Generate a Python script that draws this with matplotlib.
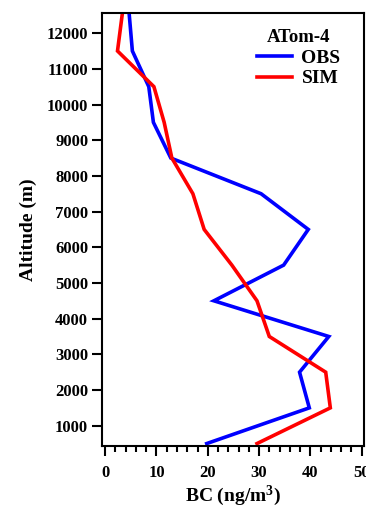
import matplotlib
matplotlib.use("Agg")
import matplotlib.pyplot as plt
from matplotlib.ticker import MultipleLocator

altitude = [500, 1500, 2500, 3500, 4500, 5500, 6500, 7500, 8500, 9500, 10500, 11500, 12500]
obs = [19.8, 39.8, 37.9, 43.6, 21.2, 34.8, 39.6, 30.4, 12.8, 9.4, 8.5, 5.3, 4.7]
sim = [29.6, 43.9, 43.0, 32.0, 29.6, 24.7, 19.3, 17.1, 13.0, 11.5, 9.5, 2.4, 3.3]
yticks = [1000, 2000, 3000, 4000, 5000, 6000, 7000, 8000, 9000, 10000, 11000, 12000]
xticks = [0, 10, 20, 30, 40, 50]

plt.rcParams['font.family'] = ['Liberation Serif', 'DejaVu Serif']
plt.rcParams['font.weight'] = 'bold'
plt.rcParams['mathtext.fontset'] = 'custom'
plt.rcParams['mathtext.rm'] = 'Liberation Serif:bold'
plt.rcParams['mathtext.default'] = 'rm'

fig = plt.figure(figsize=(3.66, 5.12), dpi=100)
ax = fig.add_axes([0.279, 0.1295, 0.716, 0.8455])

ax.plot(obs, altitude, color='#0000ff', lw=2.6, label='OBS', solid_joinstyle='miter')
ax.plot(sim, altitude, color='#ff0000', lw=2.6, label='SIM', solid_joinstyle='miter')

ax.set_xlim(-0.6, 50.5)
ax.set_ylim(440, 12570)
ax.set_xticks(xticks)
ax.set_yticks(yticks)
ax.xaxis.set_minor_locator(MultipleLocator(2))
ax.tick_params(axis='both', which='major', direction='out', length=7, width=1.5,
               labelsize=12, pad=3)
ax.tick_params(axis='x', which='minor', direction='out', length=4, width=1.5)
ax.tick_params(axis='x', which='major', pad=7)
for s in ax.spines.values():
    s.set_linewidth(1.5)
for lab in ax.get_xticklabels() + ax.get_yticklabels():
    lab.set_fontweight('bold')

ax.set_ylabel('Altitude (m)', fontsize=14, fontweight='bold', labelpad=7)
ax.set_xlabel('BC (ng/m$^3$)', fontsize=14, fontweight='bold', labelpad=2)

leg = ax.legend(loc='upper left', bbox_to_anchor=(0.59, 0.962), frameon=False,
                title='ATom-4', prop={'size': 14, 'weight': 'bold'},
                title_fontproperties={'size': 13.5, 'weight': 'bold'},
                handlelength=1.8, handletextpad=0.5, labelspacing=0.15,
                borderpad=0, borderaxespad=0)

fig.savefig('out.png', dpi=100)
